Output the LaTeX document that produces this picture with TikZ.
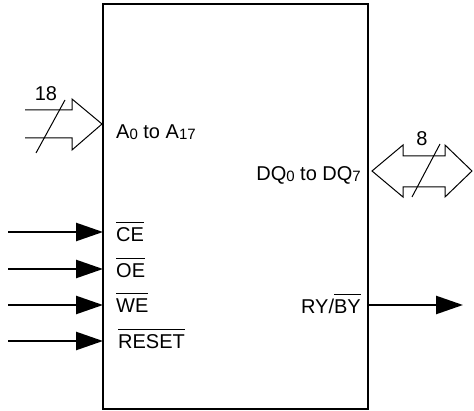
\documentclass[tikz,border=0pt]{standalone}
\usepackage{fontspec}
\setmainfont{Liberation Sans}
\usetikzlibrary{arrows.meta}
\newcommand{\ovl}[1]{\leavevmode\setbox0\hbox{#1}\rlap{\raisebox{\dimexpr\ht0+5pt\relax}{\rule{\wd0}{1.1pt}}}\box0}
\newcommand{\lowsub}[1]{\raisebox{-1pt}{\fontsize{15}{15}\selectfont #1}}
\tikzset{
  chipbox/.style={draw, line width=2.5pt, inner sep=0pt, outer sep=0pt, anchor=north west},
  lab/.style={inner sep=0pt, font=\fontsize{20}{22}\selectfont},
  sig/.style={line width=2.5pt, -{Triangle[length=27pt,width=18pt]}},
  busarrow/.style={draw, line width=1pt, line join=miter},
  slash/.style={line width=1pt}
}
\begin{document}
\begin{tikzpicture}[x=1pt,y=-1pt]
\useasboundingbox (0,0) rectangle (474,411);
\node[chipbox, minimum width=265pt, minimum height=405pt] (chip) at (103,4) {};

% address bus (input)
\draw[busarrow] (25,110) -- (72,110) -- (72,99) -- (102,124) -- (72,150) -- (72,138) -- (25,138);
\coordinate (as1) at (36,153);
\coordinate (as2) at (65,100);
\draw[slash] (as1) -- (as2);
\node[lab, anchor=base] (n18) at (46,101) {18};
\node[lab, anchor=base west] (alab) at (116,139) {A\lowsub{0} to A\lowsub{17}};

% data bus (bidirectional)
\draw[busarrow] (372,171) -- (403,145) -- (403,156) -- (445,156) -- (445,145) -- (472,171)
  -- (445,197) -- (445,187) -- (403,187) -- (403,197) -- cycle;
\coordinate (ds1) at (412,197);
\coordinate (ds2) at (440,144);
\draw[slash] (ds1) -- (ds2);
\node[lab, anchor=base] (n8) at (422,146) {8};
\node[lab, anchor=base east] (dqlab) at (361,181) {DQ\lowsub{0} to DQ\lowsub{7}};

% control inputs
\coordinate (cein) at (8,232);
\coordinate (oein) at (8,269);
\coordinate (wein) at (8,305);
\coordinate (rsin) at (8,341);
\draw[sig] (cein) -- (cein -| chip.west);
\draw[sig] (oein) -- (oein -| chip.west);
\draw[sig] (wein) -- (wein -| chip.west);
\draw[sig] (rsin) -- (rsin -| chip.west);
\node[lab, anchor=base west] (celab) at (116,242) {\ovl{CE}};
\node[lab, anchor=base west] (oelab) at (116,278) {\ovl{OE}};
\node[lab, anchor=base west] (welab) at (116,313) {\ovl{WE}};
\node[lab, anchor=base west] (rslab) at (118,349) {\ovl{RESET}};

% ready/busy output
\coordinate (ryout) at (463,305);
\draw[sig] (ryout -| chip.east) -- (ryout);
\node[lab, anchor=base east] (rylab) at (361,314) {RY/\ovl{BY}};
\end{tikzpicture}
\end{document}
